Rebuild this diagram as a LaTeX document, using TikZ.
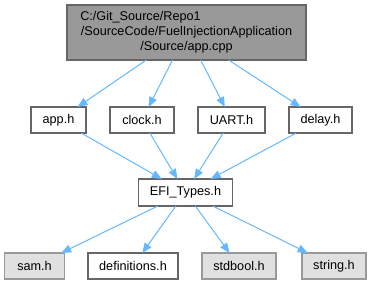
\documentclass[tikz,border=0pt]{standalone}
\usepackage{fontspec}
\setmainfont{Liberation Sans}
\usetikzlibrary{arrows.meta}
\definecolor{edgeblue}{HTML}{63B8FF}
\definecolor{darkframe}{HTML}{666666}
\definecolor{lightframe}{HTML}{999999}
\definecolor{mainfill}{HTML}{999999}
\definecolor{extfill}{HTML}{E0E0E0}
\begin{document}
\begin{tikzpicture}[x=0.75pt,y=-0.75pt,
  every node/.style={font=\fontsize{9.5pt}{11.2pt}\selectfont, inner sep=0pt, outer sep=0pt},
  filebox/.style={draw=darkframe, line width=1pt, fill=white, minimum width=#1*0.75pt, minimum height=26*0.75pt},
  extbox/.style={draw=lightframe, line width=1pt, fill=extfill, minimum width=#1*0.75pt, minimum height=26*0.75pt},
  mainbox/.style={draw=darkframe, line width=1pt, fill=mainfill, minimum width=239*0.75pt, minimum height=55*0.75pt, align=center},
  dep/.style={draw=edgeblue, line width=0.75pt, -{Triangle[length=7.5pt,width=6pt]}}
]
\useasboundingbox (0,0) rectangle (373,285);

% source file
\node[mainbox] (main) at (186.5,32.5) {C:/Git\_Source/Repo1\hspace*{92\dimexpr 0.75pt\relax}\\/SourceCode/FuelInjectionApplication\\/Source/app.cpp};

% directly included headers
\node[filebox=55] (app) at (58.5,120) {app.h};
\node[filebox=64] (clock) at (142,120) {clock.h};
\node[filebox=67] (uart) at (231.5,120) {UART.h};
\node[filebox=63] (delay) at (320.5,120) {delay.h};

% common types header
\node[filebox=94, minimum height=27*0.75pt] (efi) at (185.5,192.5) {EFI\_Types.h};

% headers pulled in by EFI_Types.h
\node[extbox=60] (sam) at (34.5,266) {sam.h};
\node[filebox=90] (defs) at (133,266) {definitions.h};
\node[extbox=74] (stdbool) at (239,266) {stdbool.h};
\node[extbox=64] (string) at (334,266) {string.h};

% include edges
\draw[dep] (main) -- (app);
\draw[dep] (main) -- (clock);
\draw[dep] (main) -- (uart);
\draw[dep] (main) -- (delay);
\draw[dep] (app) -- (efi);
\draw[dep] (clock) -- (efi);
\draw[dep] (uart) -- (efi);
\draw[dep] (delay) -- (efi);
\draw[dep] (efi) -- (sam);
\draw[dep] (efi) -- (defs);
\draw[dep] (efi) -- (stdbool);
\draw[dep] (efi) -- (string);
\end{tikzpicture}
\end{document}
